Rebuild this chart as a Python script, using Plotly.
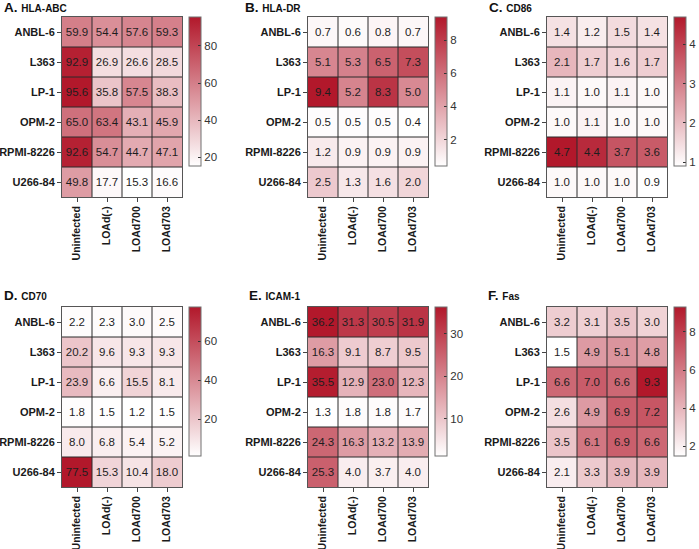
import plotly.graph_objects as go

cell_lines = ["ANBL-6", "L363", "LP-1", "OPM-2", "RPMI-8226", "U266-84"]
conditions = ["Uninfected", "LOAd(-)", "LOAd700", "LOAd703"]

hla_abc = [[59.9, 54.4, 57.6, 59.3],
           [92.9, 26.9, 26.6, 28.5],
           [95.6, 35.8, 57.5, 38.3],
           [65.0, 63.4, 43.1, 45.9],
           [92.6, 54.7, 44.7, 47.1],
           [49.8, 17.7, 15.3, 16.6]]
hla_dr = [[0.7, 0.6, 0.8, 0.7],
          [5.1, 5.3, 6.5, 7.3],
          [9.4, 5.2, 8.3, 5.0],
          [0.5, 0.5, 0.5, 0.4],
          [1.2, 0.9, 0.9, 0.9],
          [2.5, 1.3, 1.6, 2.0]]
cd86 = [[1.4, 1.2, 1.5, 1.4],
        [2.1, 1.7, 1.6, 1.7],
        [1.1, 1.0, 1.1, 1.0],
        [1.0, 1.1, 1.0, 1.0],
        [4.7, 4.4, 3.7, 3.6],
        [1.0, 1.0, 1.0, 0.9]]
cd70 = [[2.2, 2.3, 3.0, 2.5],
        [20.2, 9.6, 9.3, 9.3],
        [23.9, 6.6, 15.5, 8.1],
        [1.8, 1.5, 1.2, 1.5],
        [8.0, 6.8, 5.4, 5.2],
        [77.5, 15.3, 10.4, 18.0]]
icam1 = [[36.2, 31.3, 30.5, 31.9],
         [16.3, 9.1, 8.7, 9.5],
         [35.5, 12.9, 23.0, 12.3],
         [1.3, 1.8, 1.8, 1.7],
         [24.3, 16.3, 13.2, 13.9],
         [25.3, 4.0, 3.7, 4.0]]
fas = [[3.2, 3.1, 3.5, 3.0],
       [1.5, 4.9, 5.1, 4.8],
       [6.6, 7.0, 6.6, 9.3],
       [2.6, 4.9, 6.9, 7.2],
       [3.5, 6.1, 6.9, 6.6],
       [2.1, 3.3, 3.9, 3.9]]

panel_letters = ["A.", "B.", "C.", "D.", "E.", "F."]
panel_names = ["HLA-ABC", "HLA-DR", "CD86", "CD70", "ICAM-1", "Fas"]
panel_data = [hla_abc, hla_dr, cd86, cd70, icam1, fas]
colorbar_ticks = [[20, 40, 60, 80], [2, 4, 6, 8], [1, 2, 3, 4],
                  [20, 40, 60], [10, 20, 30], [2, 4, 6, 8]]

W, H = 699, 549
FONT = "Arial, Liberation Sans, Helvetica, sans-serif"
colorscale = [[0, "#FFFFFF"], [1, "#B2182B"]]

# pixel layout
col_left = [62, 308, 547]
hm_w = 120
row_top = [17, 307]
hm_h = 180
title_x = [[2, 243, 487], [2, 247, 486]]
title_y = [8, 295]

fig = go.Figure()
for i, (z, name, letter, ticks) in enumerate(zip(panel_data, panel_names, panel_letters, colorbar_ticks)):
    r, c = divmod(i, 3)
    n = i + 1
    xa = "x" if n == 1 else f"x{n}"
    ya = "y" if n == 1 else f"y{n}"
    x0 = col_left[c]
    y0 = row_top[r]
    flat = [v for row in z for v in row]
    fig.add_trace(go.Heatmap(
        z=z, x=conditions, y=cell_lines,
        xaxis=xa, yaxis=ya,
        colorscale=colorscale,
        zmin=min(flat), zmax=max(flat),
        texttemplate="%{z:.1f}",
        textfont=dict(size=11.5, color="#1e1e1e", family=FONT),
        hoverinfo="skip",
        colorbar=dict(
            x=(x0 + hm_w + 7) / W, xanchor="left", xpad=0,
            y=1 - y0 / H, yanchor="top", ypad=0,
            len=149, lenmode="pixels",
            thickness=12, thicknessmode="pixels",
            outlinewidth=1, outlinecolor="#707070",
            tickvals=ticks, ticks="inside", ticklen=3, tickwidth=1,
            tickcolor="#333333",
            tickfont=dict(size=11.5, color="#333333", family=FONT),
        ),
    ))
    # cell borders at category boundaries
    for k in range(1, len(conditions)):
        fig.add_shape(type="line", xref=xa, yref=f"{ya} domain",
                      x0=k - 0.5, x1=k - 0.5, y0=0, y1=1,
                      line=dict(color="#2a2a2a", width=1))
    for k in range(1, len(cell_lines)):
        fig.add_shape(type="line", xref=f"{xa} domain", yref=ya,
                      x0=0, x1=1, y0=k - 0.5, y1=k - 0.5,
                      line=dict(color="#2a2a2a", width=1))
    axx = dict(domain=[x0 / W, (x0 + hm_w) / W], anchor=ya, automargin=False,
               tickangle=-90, ticks="outside", ticklen=4, tickcolor="#444444",
               tickfont=dict(size=10.5, color="#1a1a1a", family=FONT, weight="bold"),
               showline=True, linecolor="#555555", linewidth=1, mirror=True,
               showgrid=False, zeroline=False, fixedrange=True)
    axy = dict(domain=[1 - (y0 + hm_h) / H, 1 - y0 / H], anchor=xa, automargin=False,
               autorange="reversed", ticks="outside", ticklen=4, tickcolor="#444444",
               tickfont=dict(size=11, color="#1a1a1a", family=FONT, weight="bold"),
               showline=True, linecolor="#555555", linewidth=1, mirror=True,
               showgrid=False, zeroline=False, fixedrange=True)
    fig.layout["xaxis" if n == 1 else f"xaxis{n}"] = axx
    fig.layout["yaxis" if n == 1 else f"yaxis{n}"] = axy
    fig.add_annotation(
        x=title_x[r][c] / W, y=1 - title_y[r] / H, xref="paper", yref="paper",
        xanchor="left", yanchor="middle", showarrow=False,
        text=f"<b>{letter}</b> <b><span style='font-size:10px'>{name}</span></b>",
        font=dict(size=13.5, color="#111111", family=FONT),
    )

fig.update_layout(
    width=W, height=H,
    margin=dict(l=0, r=0, t=0, b=0, autoexpand=False),
    paper_bgcolor="white",
    plot_bgcolor="white",
    showlegend=False,
)
fig.write_html(
    "out.html",
    config={"displayModeBar": False, "staticPlot": True},
    post_script="document.body.style.margin='0px';document.body.style.padding='0px';",
)
